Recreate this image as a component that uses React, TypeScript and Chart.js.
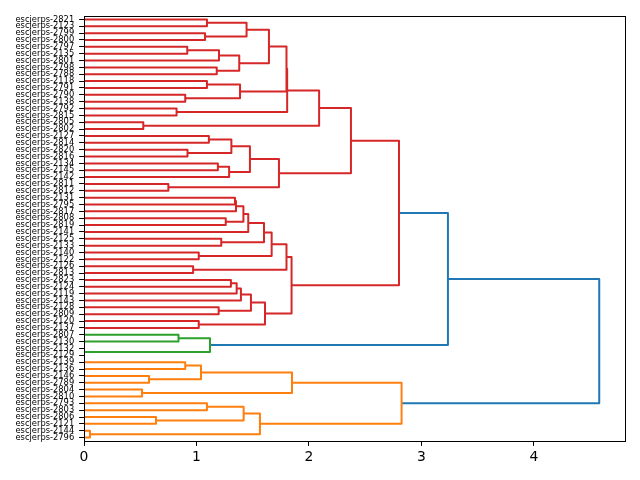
import React, { useEffect, useRef } from "react";
import { Chart, registerables } from "chart.js";

Chart.register(...registerables);

// Leaf labels, listed top to bottom.
const leafLabels: string[] = [
  "escjerps-2821", "escjerps-2123", "escjerps-2799", "escjerps-2800", "escjerps-2797",
  "escjerps-2135", "escjerps-2801", "escjerps-2798", "escjerps-2788", "escjerps-2118",
  "escjerps-2791", "escjerps-2790", "escjerps-2138", "escjerps-2792", "escjerps-2815",
  "escjerps-2805", "escjerps-2802", "escjerps-2127", "escjerps-2814", "escjerps-2820",
  "escjerps-2816", "escjerps-2134", "escjerps-2145", "escjerps-2142", "escjerps-2811",
  "escjerps-2812", "escjerps-2131", "escjerps-2795", "escjerps-2817", "escjerps-2808",
  "escjerps-2819", "escjerps-2141", "escjerps-2125", "escjerps-2133", "escjerps-2140",
  "escjerps-2122", "escjerps-2126", "escjerps-2813", "escjerps-2823", "escjerps-2124",
  "escjerps-2119", "escjerps-2143", "escjerps-2128", "escjerps-2809", "escjerps-2120",
  "escjerps-2137", "escjerps-2807", "escjerps-2130", "escjerps-2132", "escjerps-2129",
  "escjerps-2139", "escjerps-2136", "escjerps-2146", "escjerps-2789", "escjerps-2804",
  "escjerps-2810", "escjerps-2793", "escjerps-2803", "escjerps-2806", "escjerps-2121",
  "escjerps-2144", "escjerps-2796",
];

// Linkage: [childA, childB, distance]. Ids below the leaf count are leaves;
// merge k gets id leafCount + k.
const merges: [number, number, number][] = [
  [0, 1, 1.093], [2, 3, 1.076], [62, 63, 1.445], [4, 5, 0.918], [65, 6, 1.2],
  [7, 8, 1.18], [66, 67, 1.38], [64, 68, 1.644], [9, 10, 1.093], [11, 12, 0.9],
  [70, 71, 1.387], [69, 72, 1.8], [13, 14, 0.823], [73, 74, 1.806], [15, 16, 0.527],
  [75, 76, 2.09], [17, 18, 1.11], [19, 20, 0.92], [78, 79, 1.31], [21, 22, 1.19],
  [81, 23, 1.29], [80, 82, 1.475], [24, 25, 0.75], [83, 84, 1.733], [77, 85, 2.373],
  [26, 27, 1.342], [87, 28, 1.351], [29, 30, 1.26], [88, 89, 1.417], [90, 31, 1.46],
  [32, 33, 1.22], [91, 92, 1.6], [34, 35, 1.02], [93, 94, 1.668], [36, 37, 0.97],
  [95, 96, 1.8], [38, 39, 1.306], [98, 40, 1.357], [99, 41, 1.395], [42, 43, 1.197],
  [100, 101, 1.484], [44, 45, 1.02], [102, 103, 1.609], [97, 104, 1.845], [86, 105, 2.8],
  [46, 47, 0.84], [48, 49, 0.0], [107, 108, 1.12],
  [106, 109, 3.235],
  [50, 51, 0.9], [52, 53, 0.578], [111, 112, 1.04], [54, 55, 0.516], [113, 114, 1.849],
  [56, 57, 1.093], [58, 59, 0.64], [116, 117, 1.419], [60, 61, 0.053], [118, 119, 1.564],
  [115, 120, 2.823],
  [110, 121, 4.58],
];

const xTickValues: number[] = [0, 1, 2, 3, 4];

const clusterPalette = ["#ff7f0e", "#2ca02c", "#d62728", "#9467bd", "#8c564b"];
const aboveThresholdColor = "#1f77b4";

function buildLinks() {
  const n = leafLabels.length;
  const maxH = Math.max(...merges.map((m) => m[2]));
  const threshold = 0.7 * maxH;
  const pos: number[] = [];
  const height: number[] = [];
  const maxLeaf: number[] = [];
  const parent: number[] = [];
  for (let i = 0; i < n; i++) {
    pos[i] = 10 * i + 5;
    height[i] = 0;
    maxLeaf[i] = i;
  }
  merges.forEach(([a, b, h], k) => {
    const id = n + k;
    pos[id] = (pos[a] + pos[b]) / 2;
    height[id] = h;
    maxLeaf[id] = Math.max(maxLeaf[a], maxLeaf[b]);
    parent[a] = id;
    parent[b] = id;
  });
  // clusters below the threshold get palette colours, bottom cluster first
  const roots: number[] = [];
  merges.forEach((m, k) => {
    const id = n + k;
    const p = parent[id];
    if (m[2] < threshold && (p === undefined || height[p] >= threshold)) roots.push(id);
  });
  roots.sort((a, b) => maxLeaf[b] - maxLeaf[a]);
  const rootColor = new Map<number, string>();
  roots.forEach((r, i) => rootColor.set(r, clusterPalette[i % clusterPalette.length]));

  return {
    maxH,
    n,
    links: merges.map(([a, b, h], k) => {
      const id = n + k;
      let color = aboveThresholdColor;
      if (h < threshold) {
        let r = id;
        while (!rootColor.has(r)) r = parent[r];
        color = rootColor.get(r) as string;
      }
      return {
        color,
        points: [
          { x: height[a], y: pos[a] },
          { x: h, y: pos[a] },
          { x: h, y: pos[b] },
          { x: height[b], y: pos[b] },
        ],
      };
    }),
  };
}

const framePlugin = {
  id: "frame",
  afterDraw(chart: any) {
    const { ctx, chartArea: a } = chart;
    ctx.save();
    ctx.strokeStyle = "#000";
    ctx.lineWidth = 1;
    ctx.strokeRect(Math.round(a.left) + 0.5, Math.round(a.top) + 0.5,
      Math.round(a.right - a.left), Math.round(a.bottom - a.top));
    ctx.restore();
  },
};

export default function App() {
  const canvasRef = useRef<HTMLCanvasElement | null>(null);

  useEffect(() => {
    if (!canvasRef.current) return;
    const { maxH, n, links } = buildLinks();
    const chart = new Chart(canvasRef.current, {
      type: "scatter",
      data: {
        datasets: links.map((l) => ({
          data: l.points,
          showLine: true,
          borderColor: l.color,
          backgroundColor: l.color,
          borderWidth: 2,
          borderJoinStyle: "round",
          pointRadius: 0,
          pointHoverRadius: 0,
          tension: 0,
          fill: false,
        })),
      },
      options: {
        animation: false,
        responsive: false,
        events: [],
        layout: { padding: { top: 16, right: 15, left: 0, bottom: 0 } },
        plugins: { legend: { display: false }, tooltip: { enabled: false } },
        scales: {
          x: {
            type: "linear",
            min: 0,
            max: maxH * 1.05,
            afterBuildTicks: (scale: any) => {
              scale.ticks = xTickValues.map((v) => ({ value: v }));
            },
            afterFit: (scale: any) => {
              scale.height = 39;
            },
            grid: {
              display: true,
              drawOnChartArea: false,
              drawTicks: true,
              tickLength: 4.9,
              color: "#000",
              lineWidth: 1,
            },
            border: { display: false },
            ticks: {
              padding: 3.5,
              color: "#000",
              font: { family: "DejaVu Sans", size: 13.9 },
              maxRotation: 0,
              callback: (v: any) => String(v),
            },
          },
          y: {
            type: "linear",
            min: 0,
            max: 10 * n,
            reverse: true,
            afterBuildTicks: (scale: any) => {
              scale.ticks = leafLabels.map((_, i) => ({ value: 10 * i + 5 }));
            },
            afterFit: (scale: any) => {
              scale.width = 84;
            },
            grid: {
              display: true,
              drawOnChartArea: false,
              drawTicks: true,
              tickLength: 4.9,
              color: "#000",
              lineWidth: 1,
            },
            border: { display: false },
            ticks: {
              autoSkip: false,
              padding: 4.9,
              color: "#000",
              font: { family: "DejaVu Sans", size: 8.33, lineHeight: 1 },
              callback: (v: any) => leafLabels[Math.round((Number(v) - 5) / 10)] ?? "",
            },
          },
        },
      },
      plugins: [framePlugin],
    });
    return () => chart.destroy();
  }, []);

  return (
    <div style={{ position: "absolute", left: 0, top: 0, width: 640, height: 480, background: "#fff" }}>
      <canvas ref={canvasRef} width={640} height={480} />
    </div>
  );
}
